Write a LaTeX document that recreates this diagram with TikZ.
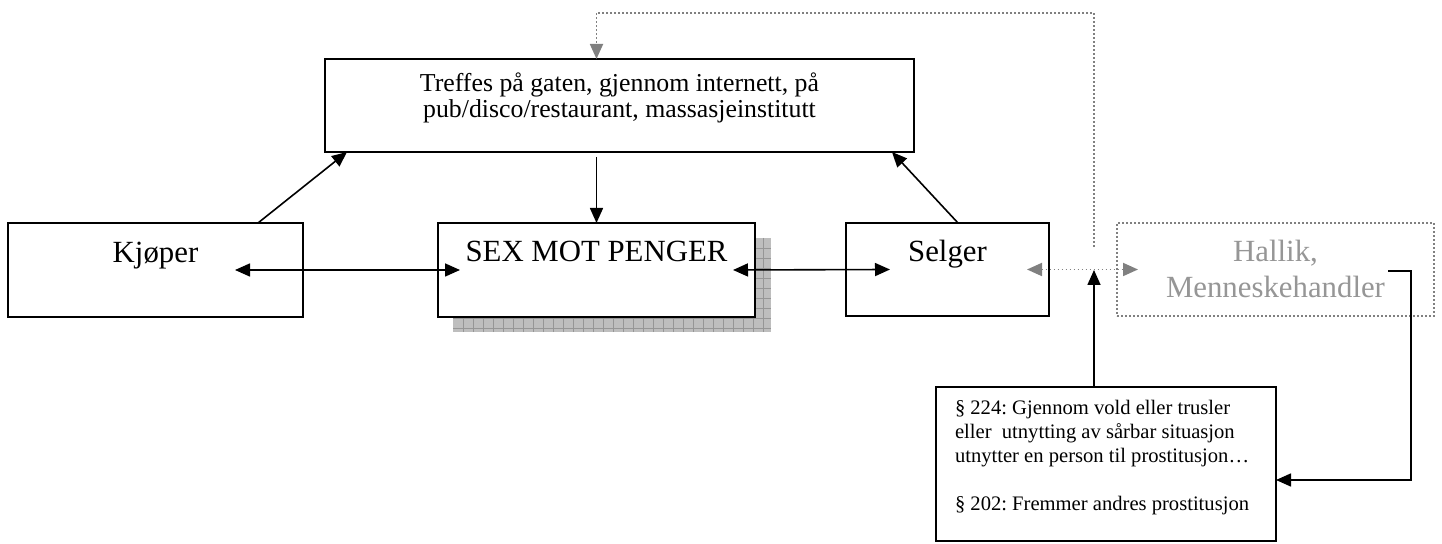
\documentclass[tikz,border=0pt]{standalone}
\usepackage{fontspec}
\setmainfont{Liberation Serif}
\usetikzlibrary{arrows.meta,calc}
\definecolor{hgray}{RGB}{150,150,150}
\definecolor{dgray}{RGB}{128,128,128}
\definecolor{shadowfill}{RGB}{190,190,190}
\definecolor{shadowline}{RGB}{150,150,150}
\newcommand{\bigtxt}{\fontsize{15.4}{18}\selectfont}
\newcommand{\midtxt}{\fontsize{12.9}{11.2}\selectfont}
\newcommand{\smalltxt}{\fontsize{10.3}{12}\selectfont}
\tikzset{
  boxnode/.style={draw=black, line width=1pt, fill=white, inner sep=0pt, outer sep=0pt, anchor=north west},
  graybox/.style={draw=dgray, line width=0.9pt, dash pattern=on 0.9pt off 1.1pt, inner sep=0pt, outer sep=0pt, anchor=north west, text=hgray},
  arr/.style={line width=0.8pt, -{Triangle[length=7.5pt,width=6.5pt]}},
  darr/.style={line width=0.8pt, {Triangle[length=7.5pt,width=6.5pt]}-{Triangle[length=7.5pt,width=6.5pt]}},
  gdarr/.style={draw=dgray, line width=0.9pt, dash pattern=on 0.9pt off 1.1pt, {Triangle[length=7.5pt,width=6.5pt,fill=dgray]}-{Triangle[length=7.5pt,width=6.5pt,fill=dgray]}},
  garr/.style={draw=dgray, line width=0.9pt, dash pattern=on 0.9pt off 1.1pt, -{Triangle[length=7.5pt,width=6.5pt,fill=dgray]}},
  gridline/.style={draw=shadowline, line width=0.35pt}
}
\begin{document}
\frenchspacing
\begin{tikzpicture}[x=0.5pt,y=-0.5pt]
\useasboundingbox (0,0) rectangle (1442,544);
% shadow of central box
\fill[shadowfill] (453,238) rectangle (771,332);
\foreach \i in {463,473,...,763} \draw[gridline] (\i,238) -- (\i,332);
\foreach \j in {248,258,...,328} \draw[gridline] (453,\j) -- (771,\j);
% boxes
\node[boxnode] (treff) at (325,59) {\parbox[c][46.5pt][t]{294.5pt}{\centering\midtxt\rule{0pt}{16.5pt}Treffes på gaten, gjennom internett, på\\pub/disco/restaurant, massasjeinstitutt}};
\node[boxnode] (kjoper) at (8,223) {\parbox[c][47pt][t]{147.5pt}{\centering\bigtxt\rule{0pt}{20pt}Kjøper}};
\node[boxnode] (sex) at (438,223) {\parbox[c][47pt][t]{158.5pt}{\centering\bigtxt\rule{0pt}{19.5pt}SEX MOT PENGER}};
\node[boxnode] (selger) at (846,223) {\parbox[c][46.5pt][t]{101.5pt}{\centering\bigtxt\rule{0pt}{19.5pt}Selger}};
\node[graybox] (hallik) at (1117,223) {\parbox[c][46.5pt][t]{158.5pt}{\centering\bigtxt\rule{0pt}{19.5pt}Hallik,\\Menneskehandler}};
\node[boxnode] (para) at (936,387) {\parbox[c][77pt][t]{170pt}{\raggedright\leftskip=9.5pt\smalltxt\rule{0pt}{14pt}§ 224: Gjennom vold eller trusler\\eller~ utnytting av sårbar situasjon\\utnytter en person til prostitusjon…\\[12pt]§ 202: Fremmer andres prostitusjon}};
% coordinates
\coordinate (pd) at (1094,247);
\coordinate (pt) at (1094,13);
\coordinate (jx) at (1094,270);
\coordinate (hb) at (1388,271);
\coordinate (hc) at (1411,480);
% connectors
\draw[arr] ($(kjoper.north west)+(250,0)$) -- ($(treff.south west)+(22,0)$);
\draw[arr] ($(selger.north west)+(112,0)$) -- ($(treff.south east)+(-22,0)$);
\draw[arr] ($(sex.north |- treff.south)+(0,5)$) -- (sex.north);
\draw[darr] ($(kjoper.east)+(-68,0)$) -- ($(sex.west)+(22,0)$);
\draw[darr] ($(sex.east)+(-22,0)$) -- ($(selger.west)+(44,0)$);
\draw[gdarr] ($(selger.east)+(-22,0)$) -- ($(hallik.west)+(21,0)$);
\draw[garr] (pd) -- (pt) -| (treff.north -| sex.north);
\draw[arr] (para.north -| jx) -- (jx);
\draw[arr] (hb) -| (hc) -- (hc -| para.east);
\end{tikzpicture}
\end{document}
